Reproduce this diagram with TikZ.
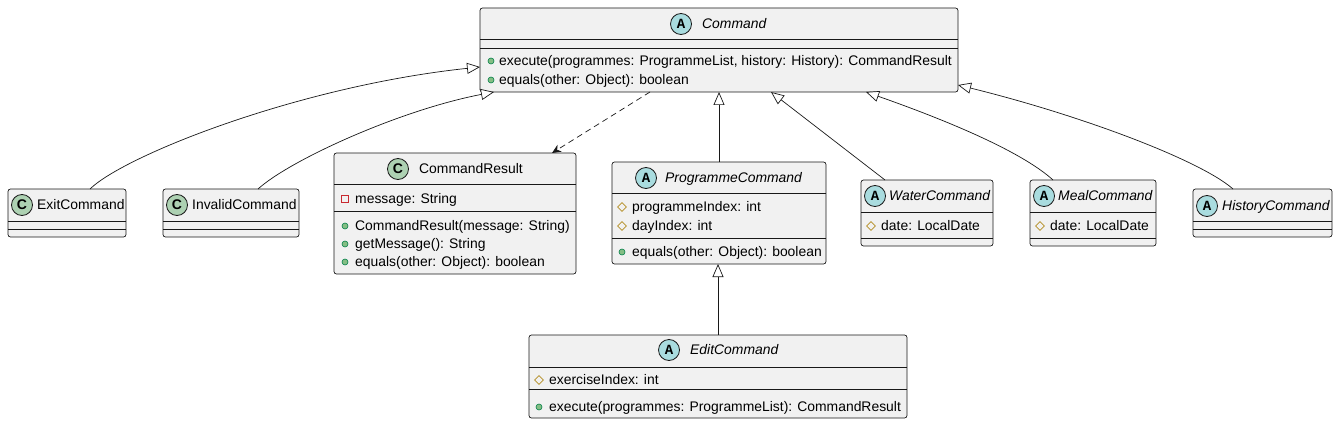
\documentclass[tikz,border=0pt]{standalone}
\usepackage{fontspec}
\setmainfont{Liberation Sans}
\setmonofont{Liberation Mono}
\usetikzlibrary{arrows.meta,shapes.geometric}

\definecolor{boxfill}{HTML}{F1F1F1}
\definecolor{edge}{HTML}{181818}
\definecolor{abg}{HTML}{A9DCDF}
\definecolor{cbg}{HTML}{ADD1B2}
\definecolor{pubfill}{HTML}{84BE84}
\definecolor{publine}{HTML}{038048}
\definecolor{protline}{HTML}{B38D22}
\definecolor{privline}{HTML}{C82930}

\tikzset{
  box/.style={draw=edge, fill=boxfill, rounded corners=2.5pt, line width=0.7pt,
    anchor=north west, inner sep=0pt, outer sep=0pt},
  sep/.style={draw=edge, line width=0.7pt},
  abadge/.style={circle, draw=edge, fill=abg, minimum size=21pt, inner sep=0pt,
    line width=0.8pt, font=\ttfamily\bfseries\fontsize{14}{14}\selectfont},
  cbadge/.style={circle, draw=edge, fill=cbg, minimum size=21pt, inner sep=0pt,
    line width=0.8pt, font=\bfseries\fontsize{14}{14}\selectfont},
  txt/.style={anchor=west, inner sep=0pt, text height=9.5pt, text depth=0pt,
    font=\fontsize{13.9}{16}\selectfont},
  cname/.style={txt, font=\itshape\fontsize{13.9}{16}\selectfont},
  pub/.style={circle, draw=publine, fill=pubfill, minimum size=6pt, inner sep=0pt, line width=0.6pt},
  prot/.style={diamond, draw=protline, minimum size=9pt, inner sep=0pt, line width=0.7pt},
  priv/.style={rectangle, draw=privline, minimum size=7pt, inner sep=0pt, line width=0.7pt},
  ext/.style={draw=edge, line width=0.7pt, -{Triangle[open, length=13pt, width=11pt, fill=white]}},
  dep/.style={draw=edge, line width=0.7pt, dash pattern=on 6pt off 4pt, -{Stealth[length=9pt, width=8pt]}}
}

\begin{document}
\begin{tikzpicture}[x=1pt, y=-1pt]
  \useasboundingbox (0,0) rectangle (1338,425);

  % Command
  \node[box, minimum width=478pt, minimum height=84pt] (cmd) at (480,8) {};
  \draw[sep] (480,39) -- (958,39) (480,48) -- (958,48);
  \node[abadge] (cmdA) at (681,24) {A};
  \node[cname] (cmdN) at (702,24) {Command};
  \node[pub] (cmdB1) at (491,61) {};
  \node[txt] (cmdT1) at (499,61) {execute(programmes: ProgrammeList, history: History): CommandResult};
  \node[pub] (cmdB2) at (491,80) {};
  \node[txt] (cmdT2) at (499,80) {equals(other: Object): boolean};

  % ExitCommand
  \node[box, minimum width=118pt, minimum height=48pt] (exit) at (8,189) {};
  \draw[sep] (8,221) -- (126,221) (8,229) -- (126,229);
  \node[cbadge] (exitC) at (22,205) {C};
  \node[txt] (exitN) at (37,205) {ExitCommand};

  % InvalidCommand
  \node[box, minimum width=136pt, minimum height=48pt] (invalid) at (163,189) {};
  \draw[sep] (163,221) -- (299,221) (163,229) -- (299,229);
  \node[cbadge] (invalidC) at (177,205) {C};
  \node[txt] (invalidN) at (192,205) {InvalidCommand};

  % CommandResult
  \node[box, minimum width=242pt, minimum height=121pt] (res) at (334,153) {};
  \draw[sep] (334,184) -- (576,184) (334,211) -- (576,211);
  \node[cbadge] (resC) at (398,169) {C};
  \node[txt] (resN) at (419,169) {CommandResult};
  \node[priv] (resB1) at (345,199) {};
  \node[txt] (resT1) at (355,199) {message: String};
  \node[pub] (resB2) at (345,226) {};
  \node[txt] (resT2) at (355,226) {CommandResult(message: String)};
  \node[pub] (resB3) at (345,244) {};
  \node[txt] (resT3) at (355,244) {getMessage(): String};
  \node[pub] (resB4) at (345,262) {};
  \node[txt] (resT4) at (355,262) {equals(other: Object): boolean};

  % ProgrammeCommand
  \node[box, minimum width=214pt, minimum height=102pt] (prog) at (612,162) {};
  \draw[sep] (612,193) -- (826,193) (612,238) -- (826,238);
  \node[abadge] (progA) at (646,178) {A};
  \node[cname] (progN) at (665,178) {ProgrammeCommand};
  \node[prot] (progB1) at (622,207) {};
  \node[txt] (progT1) at (632,207) {programmeIndex: int};
  \node[prot] (progB2) at (622,226) {};
  \node[txt] (progT2) at (632,226) {dayIndex: int};
  \node[pub] (progB3) at (622,252) {};
  \node[txt] (progT3) at (632,252) {equals(other: Object): boolean};

  % WaterCommand
  \node[box, minimum width=132pt, minimum height=66pt] (water) at (861,180) {};
  \draw[sep] (861,212) -- (993,212) (861,238) -- (993,238);
  \node[abadge] (waterA) at (875,196) {A};
  \node[cname] (waterN) at (889,196) {WaterCommand};
  \node[prot] (waterB1) at (871,226) {};
  \node[txt] (waterT1) at (881,226) {date: LocalDate};

  % MealCommand
  \node[box, minimum width=126pt, minimum height=66pt] (meal) at (1030,180) {};
  \draw[sep] (1030,212) -- (1156,212) (1030,238) -- (1156,238);
  \node[abadge] (mealA) at (1044,196) {A};
  \node[cname] (mealN) at (1058,196) {MealCommand};
  \node[prot] (mealB1) at (1040,226) {};
  \node[txt] (mealT1) at (1050,226) {date: LocalDate};

  % HistoryCommand
  \node[box, minimum width=139pt, minimum height=48pt] (hist) at (1193,189) {};
  \draw[sep] (1193,221) -- (1332,221) (1193,229) -- (1332,229);
  \node[abadge] (histA) at (1207,206) {A};
  \node[cname] (histN) at (1222,206) {HistoryCommand};

  % EditCommand
  \node[box, minimum width=378pt, minimum height=83pt] (edit) at (529,335) {};
  \draw[sep] (529,367) -- (907,367) (529,389) -- (907,389);
  \node[abadge] (editA) at (669,350) {A};
  \node[cname] (editN) at (690,350) {EditCommand};
  \node[prot] (editB1) at (539,380) {};
  \node[txt] (editT1) at (549,380) {exerciseIndex: int};
  \node[pub] (editB2) at (539,407) {};
  \node[txt] (editT2) at (549,407) {execute(programmes: ProgrammeList): CommandResult};

  % relations
  \draw[ext] ([xshift=23pt]exit.north) .. controls (125,155) and (300,86) .. ([yshift=-17pt]cmd.west);
  \draw[ext] ([xshift=27pt]invalid.north) .. controls (290,160) and (400,110) .. ([xshift=14pt]cmd.south west);
  \draw[dep] ([xshift=170pt]cmd.south west) -- ([xshift=97pt]res.north);
  \draw[ext] (prog.north) -- (prog.north |- cmd.south);
  \draw[ext] ([xshift=-42pt]water.north) -- ([xshift=291pt]cmd.south west);
  \draw[ext] ([xshift=-40pt]meal.north) .. controls (1020,150) and (940,118) .. ([xshift=386pt]cmd.south west);
  \draw[ext] ([xshift=-29.5pt]hist.north) .. controls (1200,160) and (1080,115) .. ([yshift=-35pt]cmd.east);
  \draw[ext] (edit.north) -- (edit.north |- prog.south);
\end{tikzpicture}
\end{document}
